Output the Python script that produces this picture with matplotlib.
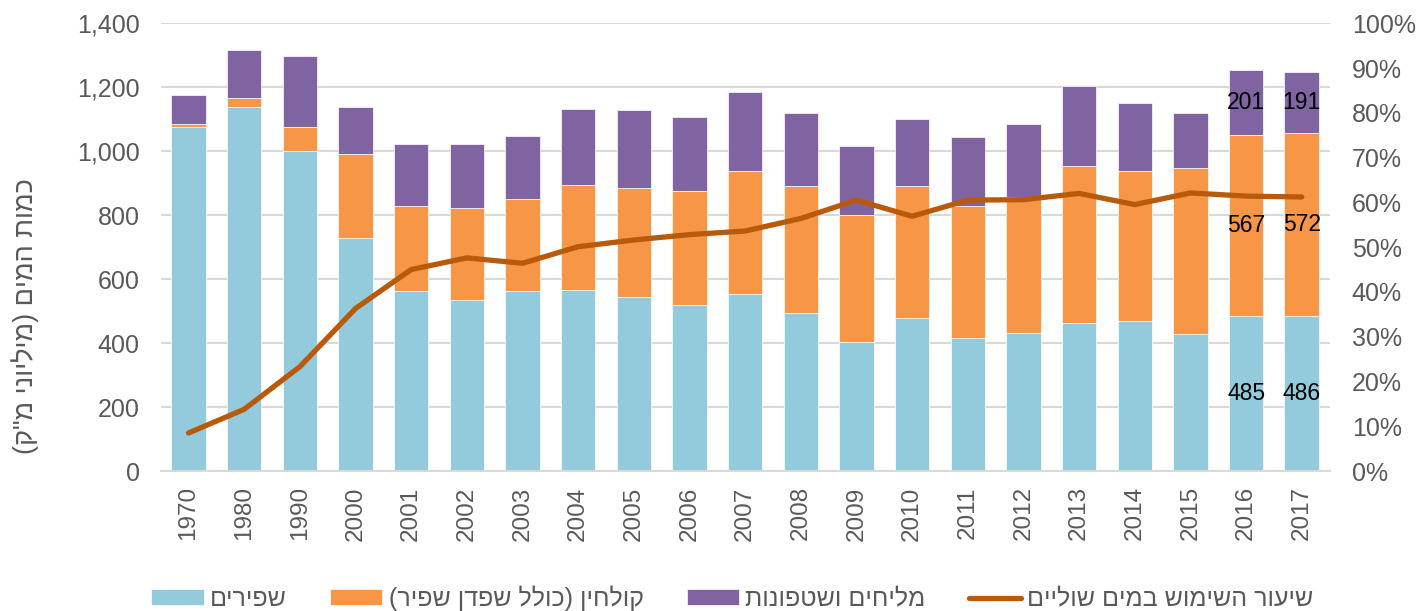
import numpy as np
import matplotlib
matplotlib.use("Agg")
import matplotlib.pyplot as plt
from matplotlib.ticker import FuncFormatter, MultipleLocator

plt.rcParams['font.family'] = ['Liberation Sans', 'DejaVu Sans']


def heb(s):
  # matplotlib has no bidi: flip the string and mirror the brackets
  s = s[::-1]
  return s.translate(str.maketrans("()", ")("))


years = ['1970', '1980', '1990', '2000', '2001', '2002', '2003', '2004', '2005', '2006',
         '2007', '2008', '2009', '2010', '2011', '2012', '2013', '2014', '2015', '2016', '2017']
fresh = [1077, 1137, 999, 730, 563, 536, 563, 567, 545, 520,
         552, 493, 405, 477, 415, 431, 462, 469, 427, 485, 486]
effluent = [7, 28, 78, 260, 266, 286, 286, 327, 340, 354,
            386, 398, 394, 414, 415, 427, 491, 468, 519, 567, 572]
brackish = [93, 150, 221, 148, 193, 200, 198, 237, 243, 233,
            247, 229, 218, 210, 213, 227, 251, 214, 172, 201, 191]
marginal_pct = [8.5, 13.8, 23.3, 36.3, 45.0, 47.6, 46.4, 50.1, 51.6, 52.8,
                53.6, 56.4, 60.5, 56.9, 60.5, 60.6, 62.0, 59.5, 62.1, 61.4, 61.2]

names = ['שפירים', 'קולחין (כולל שפדן שפיר)', 'מליחים ושטפונות', 'שיעור השימוש במים שוליים']
ylabel = 'כמות המים (מיליוני מ"ק)'
labelled = ['2016', '2017']

c_fresh = '#93CBDC'
c_eff = '#F79646'
c_brack = '#8064A2'
c_line = '#B85A0A'
grey = '#595959'

x = np.arange(len(years))
fresh = np.array(fresh)
effluent = np.array(effluent)
brackish = np.array(brackish)

fig = plt.figure(figsize=(14.22, 6.11), dpi=100)
ax = fig.add_axes([0.113, 0.229, 0.822, 0.733])

w = 0.62
b1 = ax.bar(x, fresh, w, color=c_fresh, edgecolor='white', linewidth=0.5, zorder=2)
b2 = ax.bar(x, effluent, w, bottom=fresh, color=c_eff, edgecolor='white', linewidth=0.5, zorder=2)
b3 = ax.bar(x, brackish, w, bottom=fresh + effluent, color=c_brack, edgecolor='white', linewidth=0.5,
            zorder=2)

# data labels for the last two years
for i, yr in enumerate(years):
  if yr in labelled:
    ax.text(x[i], fresh[i] / 2, str(fresh[i]), ha='center', va='center', fontsize=16.5, color='black', zorder=5)
    ax.text(x[i], fresh[i] + effluent[i] / 2, str(effluent[i]), ha='center', va='center', fontsize=16.5,
            color='black', zorder=5)
    ax.text(x[i], fresh[i] + effluent[i] + brackish[i] / 2, str(brackish[i]), ha='center', va='center',
            fontsize=16.5, color='black', zorder=5)

ax.set_xlim(-0.5, len(years) - 0.5)
ax.set_ylim(0, 1400)
ax.yaxis.set_major_locator(MultipleLocator(200))
ax.yaxis.set_major_formatter(FuncFormatter(lambda v, p: f'{int(v):,}'))
ax.set_xticks(x)
ax.set_xticklabels(years, rotation=90)
ax.grid(axis='y', color='#D9D9D9', linewidth=1.5, zorder=0)
ax.set_axisbelow(True)
for s in ['top', 'right', 'left']:
  ax.spines[s].set_visible(False)
ax.spines['bottom'].set_color('#D9D9D9')
ax.spines['bottom'].set_linewidth(1.5)
ax.tick_params(axis='both', length=0, labelsize=18, labelcolor=grey)
ax.tick_params(axis='x', labelsize=17.5, pad=11)
ax.tick_params(axis='y', pad=15)
ax.set_ylabel(heb(ylabel), fontsize=19.5, color=grey)
ax.yaxis.set_label_coords(-0.104, 0.345)

ax2 = ax.twinx()
ln, = ax2.plot(x, marginal_pct, color=c_line, linewidth=3.8, solid_capstyle='round', zorder=4)
ax2.set_ylim(0, 100)
ax2.yaxis.set_major_locator(MultipleLocator(10))
ax2.yaxis.set_major_formatter(FuncFormatter(lambda v, p: f'{int(v)}%'))
for s in ax2.spines.values():
  s.set_visible(False)
ax2.tick_params(axis='y', length=0, labelsize=18, labelcolor=grey, pad=16)

leg = fig.legend([b1, b2, b3, ln], [heb(n) for n in names], loc='center',
                 bbox_to_anchor=(0.515, 0.021), ncol=4, frameon=False, fontsize=18,
                 handlelength=2.1, handleheight=0.56, columnspacing=1.72, handletextpad=0.25,
                 borderpad=0, borderaxespad=0)
for t in leg.get_texts():
  t.set_color(grey)

fig.savefig('out.png', dpi=100)
